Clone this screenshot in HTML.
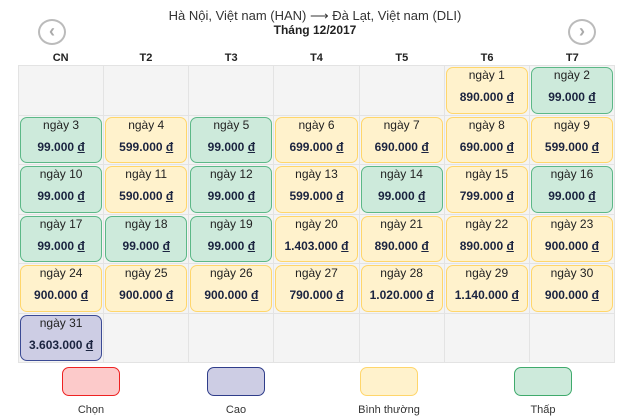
<!DOCTYPE html>
<html><head><meta charset="utf-8"><style>
*{box-sizing:border-box;margin:0;padding:0}
body{width:630px;height:420px;background:#fff;font-family:"Liberation Sans",sans-serif;position:relative;overflow:hidden;color:#222}
.t1{position:absolute;top:8px;left:0;width:630px;text-align:center;font-size:13px;color:#333}
.t2{position:absolute;top:23px;left:0;width:630px;text-align:center;font-size:12px;font-weight:bold;color:#222}
.arr{position:absolute;top:19px;width:28px;height:26px;border:2px solid #bbb;border-radius:50%;color:#aaa;font-size:18px;line-height:20px;text-align:center;font-weight:bold}
.hd{position:absolute;top:52px;left:18px;width:597px;display:grid;grid-template-columns:repeat(7,1fr);font-size:11px;font-weight:bold;text-align:center}
.g{position:absolute;left:18px;top:65px;width:597px;height:298px;display:grid;grid-template-columns:repeat(7,1fr);grid-template-rows:repeat(6,1fr);background:#f4f4f4;border-top:1px solid #e3e3e3;border-left:1px solid #e3e3e3}
.c{border-right:1px solid #e3e3e3;border-bottom:1px solid #e3e3e3;position:relative}
.b{position:absolute;inset:1px;border-radius:7px;border:1.5px solid;text-align:center}
.b .d{font-size:12px;margin-top:0px}
.b .p{font-size:12px;font-weight:bold;color:#1b2440;margin-top:8px}
.G{background:#cdeadb;border-color:#5cb887}
.Y{background:#fff2cc;border-color:#ffd66b}
.B{background:#cdcde4;border-color:#3b4a94}
.lg{position:absolute;top:367px;width:58px;height:29px;border-radius:7px;border:1.5px solid}
.ll{position:absolute;top:404px;width:120px;text-align:center;font-size:11px;color:#333}
u{text-decoration:underline}
</style></head><body>
<div class="t1">Hà Nội, Việt nam (HAN) ⟶ Đà Lạt, Việt nam (DLI)</div>
<div class="t2">Tháng 12/2017</div>
<div class="arr" style="left:38px">‹</div>
<div class="arr" style="left:568px">›</div>
<div class="hd"><div>CN</div><div>T2</div><div>T3</div><div>T4</div><div>T5</div><div>T6</div><div>T7</div></div>
<div class="g">
<div class="c"></div><div class="c"></div><div class="c"></div><div class="c"></div><div class="c"></div>
<div class="c"><div class="b Y"><div class="d">ngày 1</div><div class="p">890.000 <u>đ</u></div></div></div>
<div class="c"><div class="b G"><div class="d">ngày 2</div><div class="p">99.000 <u>đ</u></div></div></div>

<div class="c"><div class="b G"><div class="d">ngày 3</div><div class="p">99.000 <u>đ</u></div></div></div>
<div class="c"><div class="b Y"><div class="d">ngày 4</div><div class="p">599.000 <u>đ</u></div></div></div>
<div class="c"><div class="b G"><div class="d">ngày 5</div><div class="p">99.000 <u>đ</u></div></div></div>
<div class="c"><div class="b Y"><div class="d">ngày 6</div><div class="p">699.000 <u>đ</u></div></div></div>
<div class="c"><div class="b Y"><div class="d">ngày 7</div><div class="p">690.000 <u>đ</u></div></div></div>
<div class="c"><div class="b Y"><div class="d">ngày 8</div><div class="p">690.000 <u>đ</u></div></div></div>
<div class="c"><div class="b Y"><div class="d">ngày 9</div><div class="p">599.000 <u>đ</u></div></div></div>

<div class="c"><div class="b G"><div class="d">ngày 10</div><div class="p">99.000 <u>đ</u></div></div></div>
<div class="c"><div class="b Y"><div class="d">ngày 11</div><div class="p">590.000 <u>đ</u></div></div></div>
<div class="c"><div class="b G"><div class="d">ngày 12</div><div class="p">99.000 <u>đ</u></div></div></div>
<div class="c"><div class="b Y"><div class="d">ngày 13</div><div class="p">599.000 <u>đ</u></div></div></div>
<div class="c"><div class="b G"><div class="d">ngày 14</div><div class="p">99.000 <u>đ</u></div></div></div>
<div class="c"><div class="b Y"><div class="d">ngày 15</div><div class="p">799.000 <u>đ</u></div></div></div>
<div class="c"><div class="b G"><div class="d">ngày 16</div><div class="p">99.000 <u>đ</u></div></div></div>

<div class="c"><div class="b G"><div class="d">ngày 17</div><div class="p">99.000 <u>đ</u></div></div></div>
<div class="c"><div class="b G"><div class="d">ngày 18</div><div class="p">99.000 <u>đ</u></div></div></div>
<div class="c"><div class="b G"><div class="d">ngày 19</div><div class="p">99.000 <u>đ</u></div></div></div>
<div class="c"><div class="b Y"><div class="d">ngày 20</div><div class="p">1.403.000 <u>đ</u></div></div></div>
<div class="c"><div class="b Y"><div class="d">ngày 21</div><div class="p">890.000 <u>đ</u></div></div></div>
<div class="c"><div class="b Y"><div class="d">ngày 22</div><div class="p">890.000 <u>đ</u></div></div></div>
<div class="c"><div class="b Y"><div class="d">ngày 23</div><div class="p">900.000 <u>đ</u></div></div></div>

<div class="c"><div class="b Y"><div class="d">ngày 24</div><div class="p">900.000 <u>đ</u></div></div></div>
<div class="c"><div class="b Y"><div class="d">ngày 25</div><div class="p">900.000 <u>đ</u></div></div></div>
<div class="c"><div class="b Y"><div class="d">ngày 26</div><div class="p">900.000 <u>đ</u></div></div></div>
<div class="c"><div class="b Y"><div class="d">ngày 27</div><div class="p">790.000 <u>đ</u></div></div></div>
<div class="c"><div class="b Y"><div class="d">ngày 28</div><div class="p">1.020.000 <u>đ</u></div></div></div>
<div class="c"><div class="b Y"><div class="d">ngày 29</div><div class="p">1.140.000 <u>đ</u></div></div></div>
<div class="c"><div class="b Y"><div class="d">ngày 30</div><div class="p">900.000 <u>đ</u></div></div></div>

<div class="c"><div class="b B"><div class="d">ngày 31</div><div class="p">3.603.000 <u>đ</u></div></div></div>
<div class="c"></div><div class="c"></div><div class="c"></div><div class="c"></div><div class="c"></div><div class="c"></div>
</div>
<div class="lg" style="left:62px;background:#fccaca;border-color:#ee2222"></div>
<div class="lg" style="left:207px;background:#cdcde4;border-color:#2f3d8a"></div>
<div class="lg" style="left:360px;background:#fff2cc;border-color:#ffd66b"></div>
<div class="lg" style="left:514px;background:#cdeadb;border-color:#3faa6c"></div>
<div class="ll" style="left:31px">Chọn</div>
<div class="ll" style="left:176px">Cao</div>
<div class="ll" style="left:329px">Bình thường</div>
<div class="ll" style="left:483px">Thấp</div>
</body></html>
